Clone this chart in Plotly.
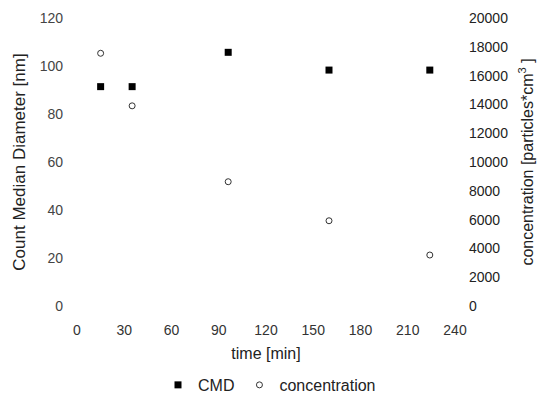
import plotly.graph_objects as go

time_min = [15, 35, 96, 160, 224]
cmd_nm = [91.4, 91.4, 105.7, 98.3, 98.3]
concentration = [17550, 13900, 8630, 5920, 3540]

x_ticks = [0, 30, 60, 90, 120, 150, 180, 210, 240]
y1_ticks = [0, 20, 40, 60, 80, 100, 120]
y2_ticks = [0, 2000, 4000, 6000, 8000, 10000, 12000, 14000, 16000, 18000, 20000]

font = dict(family="Liberation Sans, Arial, sans-serif", size=14, color="#222")

fig = go.Figure()
fig.add_trace(go.Scatter(x=time_min, y=cmd_nm, mode="markers", name="CMD",
                         marker=dict(symbol="square", size=7, color="black")))
fig.add_trace(go.Scatter(x=time_min, y=concentration, mode="markers", name="concentration",
                         yaxis="y2",
                         marker=dict(symbol="circle-open", size=6, color="#333",
                                     line=dict(width=1))))

fig.update_layout(
    width=539, height=401,
    margin=dict(l=77, r=84, t=18, b=95, autoexpand=False),
    paper_bgcolor="white", plot_bgcolor="white",
    font=font,
    showlegend=True,
    legend=dict(orientation="h", x=0.5, xanchor="center", xref="container",
                y=0.04, yanchor="middle", yref="container",
                font=dict(size=16), itemwidth=30, tracegroupgap=0),
    xaxis=dict(range=[0, 240], tickvals=x_ticks, showgrid=False, zeroline=False,
               showline=False, ticklabelstandoff=14, tickfont=dict(size=14, color="#333"),
               title=dict(text="time [min]", font=dict(size=16), standoff=10)),
    yaxis=dict(range=[0, 120], tickvals=y1_ticks, showgrid=False, zeroline=False,
               showline=False, ticklabelstandoff=13, tickfont=dict(size=14, color="#444"),
               title=dict(text="Count Median Diameter [nm]", font=dict(size=17), standoff=9)),
    yaxis2=dict(range=[0, 20000], tickvals=y2_ticks, tickformat="d", overlaying="y", side="right",
                showgrid=False, zeroline=False, showline=False, ticklabelstandoff=13,
                tickfont=dict(size=14, color="#222"),
                title=dict(text="concentration [particles*cm<sup>3</sup> ]",
                           font=dict(size=16), standoff=14)),
)

fig.write_html("out.html")
